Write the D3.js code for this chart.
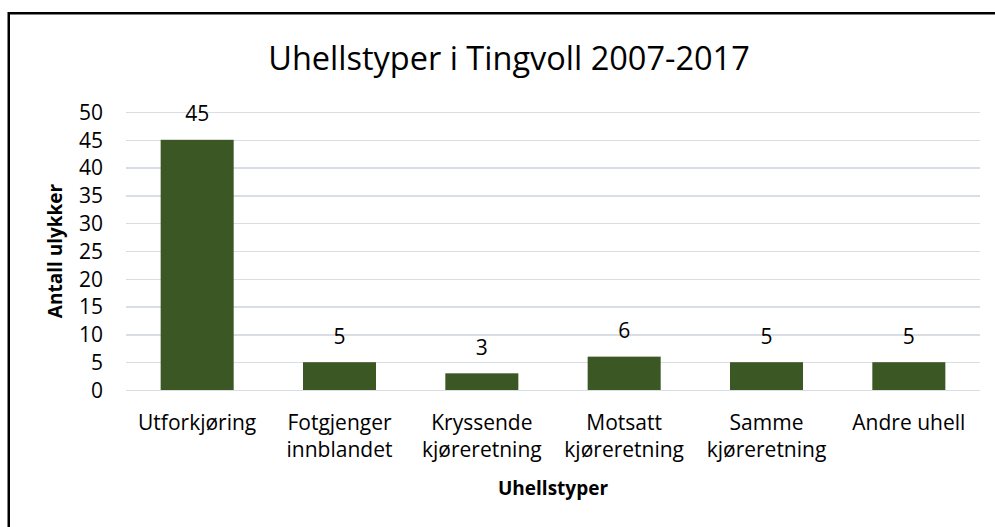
<!DOCTYPE html>
<html>
<head>
<meta charset="utf-8">
<script src="https://cdn.jsdelivr.net/npm/d3@7"></script>
<style>
  body { margin: 0; background: #fff; }
  svg text { font-family: "Open Sans", Lato, sans-serif; fill: #000; }
  .grid line { stroke: #d9dee5; stroke-width: 1.5; }
  .grid .domain { display: none; }
</style>
</head>
<body>
<script>
// chart data
var categories = ["Utforkjøring", "Fotgjenger innblandet", "Kryssende kjøreretning",
                  "Motsatt kjøreretning", "Samme kjøreretning", "Andre uhell"];
var counts = [45, 5, 3, 6, 5, 5];
var yTicks = [0, 5, 10, 15, 20, 25, 30, 35, 40, 45, 50];

var chartTitle = "Uhellstyper i Tingvoll 2007-2017";
var xTitle = "Uhellstyper";
var yTitle = "Antall ulykker";

// dimensions
var W = 995, H = 527;
var margin = {top: 112, right: 15, bottom: 137, left: 126},
    width = W - margin.left - margin.right,
    height = H - margin.top - margin.bottom;

var svg = d3.select("body").append("svg")
    .attr("width", W)
    .attr("height", H);

// frame (only top and left edges are visible in the picture)
svg.append("line")
    .attr("x1", 8.75).attr("y1", 13.25).attr("x2", W).attr("y2", 13.25)
    .attr("stroke", "#000").attr("stroke-width", 2.5);
svg.append("line")
    .attr("x1", 8.75).attr("y1", 12).attr("x2", 8.75).attr("y2", H)
    .attr("stroke", "#000").attr("stroke-width", 2.5);

var g = svg.append("g")
    .attr("transform", "translate(" + margin.left + "," + margin.top + ")");

var x = d3.scaleBand()
    .domain(categories)
    .range([0, width])
    .paddingInner(0.487)
    .paddingOuter(0.2435);

var y = d3.scaleLinear()
    .domain([0, 50])
    .range([height, 0]);

// gridlines
g.append("g")
    .attr("class", "grid")
    .call(d3.axisLeft(y).tickValues(yTicks).tickSize(-width).tickFormat(""))
    .attr("shape-rendering", "crispEdges");

// y tick labels
var yAxis = g.append("g")
    .call(d3.axisLeft(y).tickValues(yTicks).tickSize(0).tickPadding(23));
yAxis.select(".domain").remove();
yAxis.selectAll("text")
    .style("font-size", "21px")
    .attr("dy", "0.35em");

// bars
g.selectAll(".bar")
    .data(counts)
  .enter().append("rect")
    .attr("class", "bar")
    .attr("x", function(d, i) { return x(categories[i]); })
    .attr("width", x.bandwidth())
    .attr("y", function(d) { return y(d); })
    .attr("height", function(d) { return height - y(d); })
    .attr("fill", "#3a5724");

// value labels
g.selectAll(".val")
    .data(counts)
  .enter().append("text")
    .attr("class", "val")
    .attr("x", function(d, i) { return x(categories[i]) + x.bandwidth() / 2; })
    .attr("y", function(d) { return y(d) - 18.5; })
    .attr("text-anchor", "middle")
    .style("font-size", "21px")
    .text(function(d) { return d; });

// x labels, wrapped to the band width
var xAxis = g.append("g")
    .attr("transform", "translate(0," + height + ")")
    .call(d3.axisBottom(x).tickSize(0).tickPadding(0));
xAxis.select(".domain").remove();
xAxis.selectAll("text")
    .style("font-size", "21px")
    .attr("dy", null)
    .attr("y", 0)
    .each(function(d) {
      var t = d3.select(this), words = d.split(" "), lines = [], line = [];
      t.text(null);
      var probe = t.append("tspan");
      words.forEach(function(w) {
        line.push(w);
        probe.text(line.join(" "));
        if (probe.node().getComputedTextLength() > x.step() - 8 && line.length > 1) {
          line.pop();
          lines.push(line.join(" "));
          line = [w];
        }
      });
      lines.push(line.join(" "));
      probe.remove();
      lines.forEach(function(l, i) {
        t.append("tspan")
          .attr("x", 0)
          .attr("y", 40 + i * 27)
          .text(l);
      });
    });

// title
svg.append("text")
    .attr("x", 509)
    .attr("y", 70)
    .attr("text-anchor", "middle")
    .style("font-size", "32.5px")
    .text(chartTitle);

// axis titles
svg.append("text")
    .attr("x", margin.left + width / 2)
    .attr("y", 495)
    .attr("text-anchor", "middle")
    .style("font-size", "19px")
    .style("font-weight", "bold")
    .text(xTitle);

svg.append("text")
    .attr("transform", "translate(62," + (margin.top + height / 2) + ") rotate(-90)")
    .attr("text-anchor", "middle")
    .style("font-size", "19px")
    .style("font-weight", "bold")
    .text(yTitle);
</script>
</body>
</html>
